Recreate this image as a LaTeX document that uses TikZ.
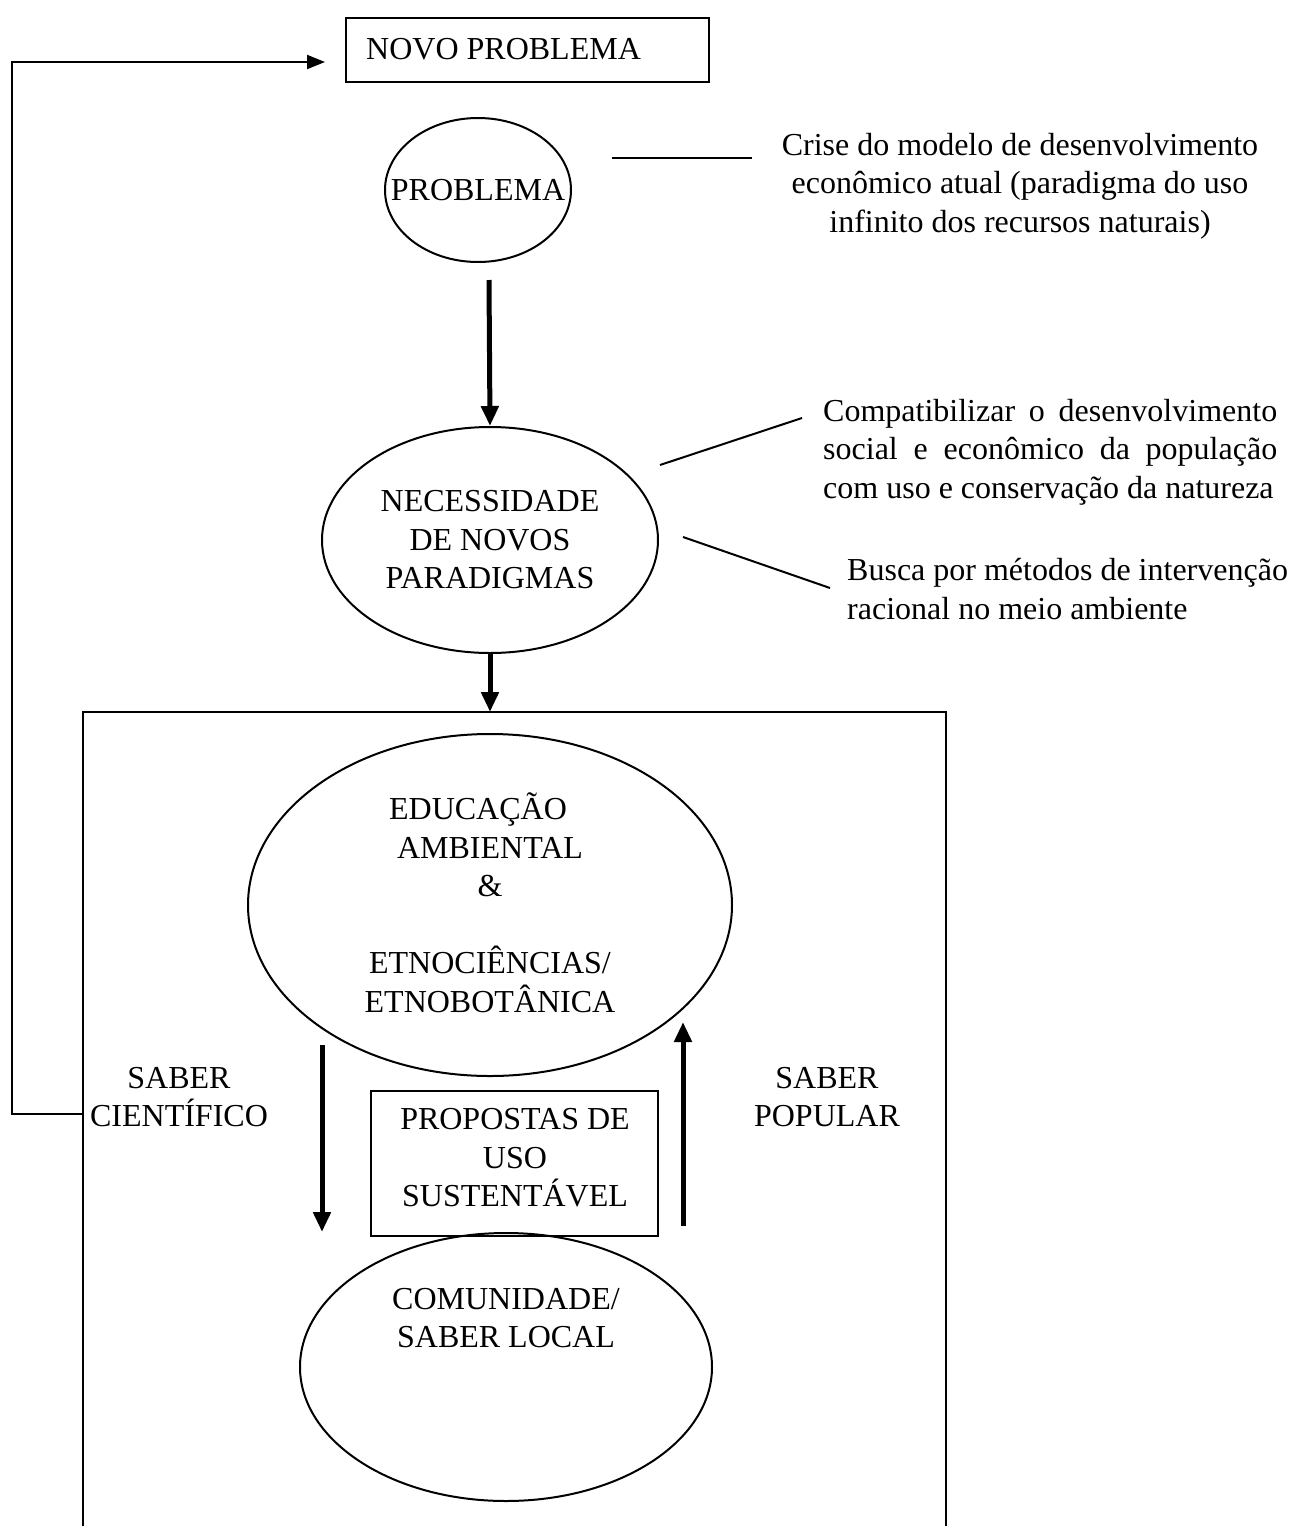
\documentclass[tikz,border=0pt]{standalone}
\usepackage{fontspec}
\setmainfont{Liberation Serif}
\usetikzlibrary{shapes.geometric,arrows.meta}
\tikzset{
  txt/.style={font=\fontsize{32}{38.5}\selectfont, inner sep=0pt, align=center},
  oval/.style={ellipse, draw, line width=2pt, inner sep=0pt},
  thin/.style={line width=2pt},
  thick arrow/.style={line width=5pt, -{Triangle[width=17pt,length=20pt]}},
  thin arrow/.style={line width=2pt, -{Triangle[width=14pt,length=18pt]}},
  boxed/.style={draw, line width=2pt, inner sep=0pt}
}
\begin{document}
\begin{tikzpicture}[x=1pt,y=-1pt]
\useasboundingbox (0,0) rectangle (1293,1526);
% top box
\node[boxed, minimum width=363pt, minimum height=64pt] (novo) at (527.5,50) {};
\node[txt, anchor=west] (novot) at (366,49) {NOVO PROBLEMA};
% problema
\node[oval, minimum width=186pt, minimum height=144pt] (prob) at (478,190) {};
\node[txt] (probt) at (478,190) {PROBLEMA};
\node[txt] (crise) at (1020,186) {Crise do modelo de desenvolvimento\\econômico atual (paradigma do uso\\infinito dos recursos naturais)};
\coordinate (c1a) at (612,158);
\coordinate (c1b) at (752,158);
\draw[thin] (c1a) -- (c1b);
% necessidade
\node[oval, minimum width=336pt, minimum height=226pt] (nec) at (490,540) {};
\node[txt] (nect) at (490,540) {NECESSIDADE\\DE NOVOS\\PARADIGMAS};
\draw[thick arrow] (489,280) -- (nec.north);
\node[txt, anchor=west] (compat) at (823,452) {\hbox to 454pt{Compatibilizar\hfill o\hfill desenvolvimento}\\\hbox to 454pt{social\hfill e\hfill econômico\hfill da\hfill população}\\\hbox to 454pt{com uso e conservação da natureza\hfill}};
\coordinate (c2a) at (660,465);
\coordinate (c2b) at (802,418);
\draw[thin] (c2a) -- (c2b);
\node[txt, anchor=west, align=left] (busca) at (847,589) {Busca por métodos de intervenção\\racional no meio ambiente};
\coordinate (c3a) at (683,537);
\coordinate (c3b) at (830,588);
\draw[thin] (c3a) -- (c3b);
% big box (open at bottom)
\coordinate (bl) at (83,1540);
\coordinate (tl) at (83,712);
\coordinate (tr) at (946,712);
\coordinate (br) at (946,1540);
\draw[thin] (bl) -- (tl) -- (tr) -- (br);
\coordinate (boxtop) at (490,712);
\draw[thick arrow] (nec.south) -- (boxtop);
% educacao
\node[oval, minimum width=484pt, minimum height=342pt] (edu) at (490,905) {};
\node[txt] (edut) at (490,903) {EDUCAÇÃO\hspace*{24pt}\\AMBIENTAL\hspace*{20pt}\\\&\hspace*{14pt}\\[38.5pt]ETNOCIÊNCIAS/\\ETNOBOTÂNICA};
% comunidade
\node[oval, minimum width=412pt, minimum height=268pt] (com) at (506,1367) {};
\node[txt] (comt) at (506,1318) {COMUNIDADE/\\SABER LOCAL};
% propostas
\node[boxed, minimum width=287pt, minimum height=145pt] (prop) at (514.5,1163) {};
\node[txt] (propt) at (515,1158) {PROPOSTAS DE\\USO\\SUSTENTÁVEL};
% labels
\node[txt] (cient) at (179,1097) {SABER\\CIENTÍFICO};
\node[txt] (pop) at (827,1097) {SABER\\POPULAR};
% side arrows
\coordinate (dA) at (322,1045);
\coordinate (dB) at (322,1232);
\draw[thick arrow] (dA) -- (dB);
\coordinate (uA) at (683,1226);
\coordinate (uB) at (683,1022);
\draw[thick arrow] (uA) -- (uB);
% feedback
\coordinate (fb) at (83,1114);
\coordinate (ntip) at (325,62);
\draw[thin arrow] (fb) -- (12,1114) -- (12,62) -- (ntip);
\end{tikzpicture}
\end{document}
